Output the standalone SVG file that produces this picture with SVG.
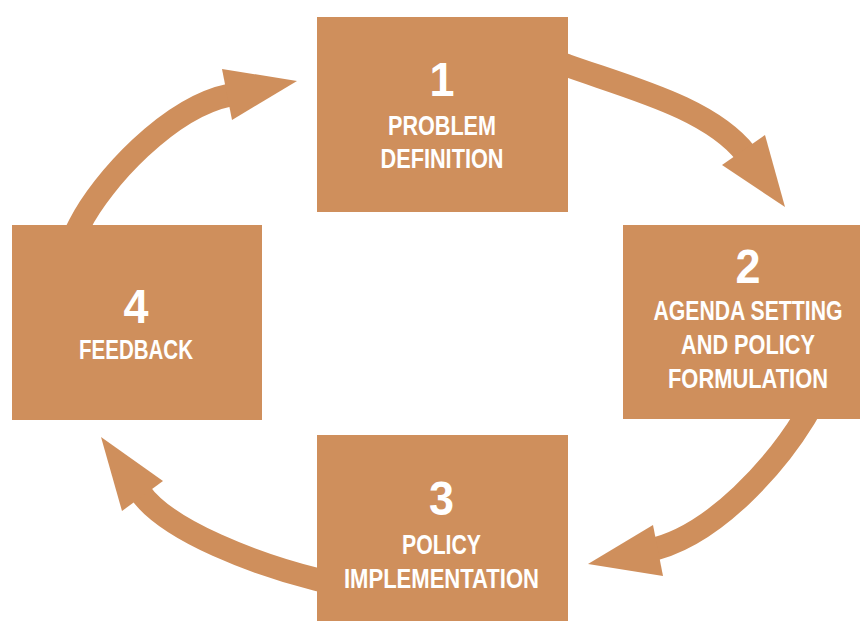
<svg xmlns="http://www.w3.org/2000/svg" width="860" height="621" viewBox="0 0 860 621">
<style>
.box{fill:#CF8F5C}
.band{fill:none;stroke:#CF8F5C;stroke-width:23;stroke-linejoin:round}
.head{fill:#CF8F5C}
text{fill:#FFFFFF;font-family:"Liberation Sans Narrow","Liberation Sans",Arial,sans-serif;font-weight:bold;text-anchor:middle}
.num{font-size:48px}
.lbl{font-size:27px}
</style>
<rect width="860" height="621" fill="#FFFFFF"/>
<g id="connectors">
<path class="band" d="M550,60 L567,65.5 C630,88 710,108 746,154"/>
<polygon class="head" points="722,165 765,135 785,207"/>
<path class="band" d="M812,405 L804.5,418 C778.5,460.5 715,538 646,551"/>
<polygon class="head" points="653,525 663,576 588,564"/>
<path class="band" d="M332,583 L317,579.5 C259,565 168,532 140,492"/>
<polygon class="head" points="163,481 122,511 101,437"/>
<path class="band" d="M72,240 L79.5,225 C102,180.5 169,107.4 230,95"/>
<polygon class="head" points="222,69 232,120 297,81"/>
</g>
<g id="node1">
<rect class="box" x="317" y="17" width="251" height="195"/>
<text class="num" x="442" y="96" textLength="25" lengthAdjust="spacingAndGlyphs">1</text>
<text class="lbl" x="442" y="135" textLength="108" lengthAdjust="spacingAndGlyphs">PROBLEM</text>
<text class="lbl" x="442" y="168" textLength="123" lengthAdjust="spacingAndGlyphs">DEFINITION</text>
</g>
<g id="node2">
<rect class="box" x="623" y="225" width="237" height="194"/>
<text class="num" x="748" y="283" textLength="25" lengthAdjust="spacingAndGlyphs">2</text>
<text class="lbl" x="748" y="320" textLength="189" lengthAdjust="spacingAndGlyphs">AGENDA SETTING</text>
<text class="lbl" x="748" y="354" textLength="134" lengthAdjust="spacingAndGlyphs">AND POLICY</text>
<text class="lbl" x="748" y="388" textLength="160" lengthAdjust="spacingAndGlyphs">FORMULATION</text>
</g>
<g id="node3">
<rect class="box" x="317" y="435" width="251" height="186"/>
<text class="num" x="441.5" y="515" textLength="25" lengthAdjust="spacingAndGlyphs">3</text>
<text class="lbl" x="441.5" y="554" textLength="79" lengthAdjust="spacingAndGlyphs">POLICY</text>
<text class="lbl" x="441.5" y="588" textLength="195" lengthAdjust="spacingAndGlyphs">IMPLEMENTATION</text>
</g>
<g id="node4">
<rect class="box" x="12" y="225" width="250" height="195"/>
<text class="num" x="136" y="323" textLength="25" lengthAdjust="spacingAndGlyphs">4</text>
<text class="lbl" x="136" y="359" textLength="114" lengthAdjust="spacingAndGlyphs">FEEDBACK</text>
</g>
</svg>
